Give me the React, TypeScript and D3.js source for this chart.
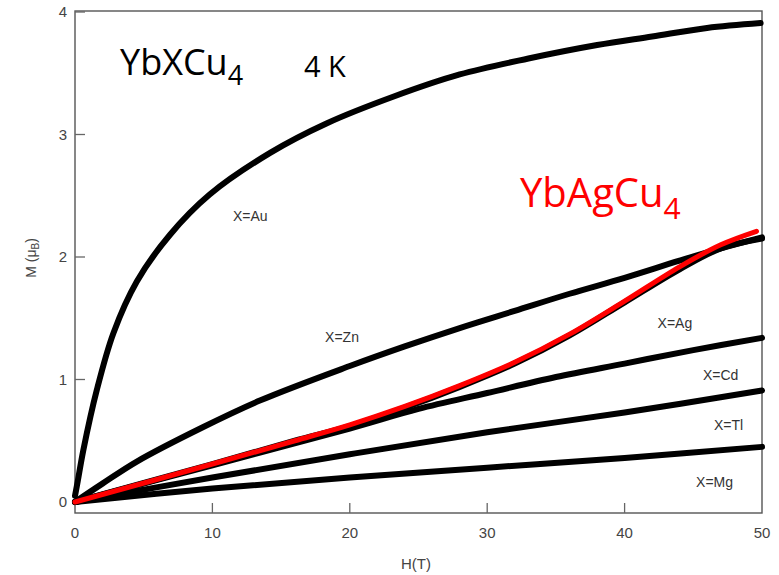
import React from "react";
import * as d3 from "d3";

const xTicks = [0, 10, 20, 30, 40, 50];
const yTicks = [0, 1, 2, 3, 4];

const auH = [0, 0.2, 0.6, 1.6, 2.8, 4.5, 6.9, 9.8, 14.2, 18.3, 23.2, 28, 33, 38, 42, 46, 49.9];
const auM = [0.05, 0.17, 0.42, 0.92, 1.38, 1.8, 2.18, 2.51, 2.85, 3.09, 3.31, 3.49, 3.62, 3.73, 3.8, 3.87, 3.91];

const znH = [0, 2, 4.5, 9.3, 13.5, 20, 24, 28, 32, 36, 40, 44, 47, 50];
const znM = [0, 0.15, 0.33, 0.61, 0.83, 1.11, 1.27, 1.42, 1.56, 1.7, 1.83, 1.97, 2.07, 2.16];

const agH = [0, 10, 16, 20, 24, 28, 32, 36, 40, 44, 47, 50];
const agM = [0, 0.31, 0.5, 0.62, 0.77, 0.94, 1.13, 1.36, 1.63, 1.9, 2.07, 2.15];

const redH = [0, 10, 16, 20, 24, 28, 32, 36, 40, 44, 47, 49.6];
const redM = [0, 0.31, 0.5, 0.63, 0.78, 0.95, 1.14, 1.37, 1.64, 1.92, 2.1, 2.21];

const cdH = [0, 10, 20, 25, 30, 35, 40, 45, 50];
const cdM = [0, 0.3, 0.6, 0.76, 0.89, 1.02, 1.13, 1.24, 1.34];

const tlH = [0, 10, 20, 30, 40, 50];
const tlM = [0, 0.2, 0.39, 0.57, 0.73, 0.91];

const mgH = [0, 10, 20, 30, 40, 50];
const mgM = [0, 0.11, 0.2, 0.28, 0.36, 0.45];

const labels = ["X=Au", "X=Zn", "X=Ag", "X=Cd", "X=Tl", "X=Mg"];
const labelH = [11.5, 18.2, 42.4, 45.7, 46.5, 45.2];
const labelM = [2.29, 1.31, 1.42, 1.0, 0.59, 0.12];

export default function App() {
  const W = 779;
  const H = 575;
  const x = d3.scaleLinear().domain([0, 50]).range([75, 762]);
  const y = d3.scaleLinear().domain([0, 4]).range([502, 12]);
  const frameTop = 11;
  const frameBottom = 513;

  const line = d3
    .line<[number, number]>()
    .x((d) => x(d[0]))
    .y((d) => y(d[1]))
    .curve(d3.curveCatmullRom.alpha(0.5));

  const toPts = (hs: number[], ms: number[]) => hs.map((h, i) => [h, ms[i]] as [number, number]);

  const blackSeries = [
    toPts(mgH, mgM),
    toPts(tlH, tlM),
    toPts(cdH, cdM),
    toPts(agH, agM),
    toPts(znH, znM),
    toPts(auH, auM),
  ];

  const sans = "'Liberation Sans', Arial, sans-serif";
  const cal = "'Open Sans', 'Noto Sans', sans-serif";

  return (
    <svg width={W} height={H} style={{ position: "absolute", left: 0, top: 0, background: "#fff" }}>
      <rect x={0} y={0} width={W} height={H} fill="#fff" />
      {/* frame */}
      <rect
        x={x(0)}
        y={frameTop}
        width={x(50) - x(0)}
        height={frameBottom - frameTop}
        fill="none"
        stroke="#555"
        strokeWidth={1.4}
      />
      {/* y ticks */}
      {yTicks.map((t) => (
        <g key={"y" + t}>
          <line x1={x(0)} x2={x(0) + 10} y1={y(t)} y2={y(t)} stroke="#666" strokeWidth={1.3} />
          <text x={67} y={y(t) + 5} textAnchor="end" fontFamily={sans} fontSize={15} fill="#444">
            {t}
          </text>
        </g>
      ))}
      {/* x ticks */}
      {xTicks.map((t) => (
        <g key={"x" + t}>
          {t > 0 && t < 50 && (
            <line x1={x(t)} x2={x(t)} y1={frameBottom} y2={frameBottom - 10} stroke="#666" strokeWidth={1.3} />
          )}
          <text x={x(t)} y={538} textAnchor="middle" fontFamily={sans} fontSize={15} fill="#444">
            {t}
          </text>
        </g>
      ))}
      <text x={416} y={569} textAnchor="middle" fontFamily={sans} fontSize={15} fill="#444">
        H(T)
      </text>
      <text
        transform="translate(36,258) rotate(-90)"
        textAnchor="middle"
        fontFamily={sans}
        fontSize={14}
        fill="#444"
      >
        M (μ
        <tspan fontSize={10} dy={3}>
          B
        </tspan>
        <tspan dy={-3}>)</tspan>
      </text>

      {/* curves */}
      {blackSeries.map((pts, i) => (
        <path
          key={"b" + i}
          d={line(pts) || ""}
          fill="none"
          stroke="#000"
          strokeWidth={6}
          strokeLinecap="round"
          strokeLinejoin="round"
        />
      ))}
      <path
        d={line(toPts(redH, redM)) || ""}
        fill="none"
        stroke="#ff0000"
        strokeWidth={5}
        strokeLinecap="round"
        strokeLinejoin="round"
      />

      {labels.map((l, i) => (
        <text key={l} x={x(labelH[i])} y={y(labelM[i])} fontFamily={sans} fontSize={14} fill="#333">
          {l}
        </text>
      ))}

      {/* annotations */}
      <text x={120} y={75} fontFamily={cal} fontSize={36} fill="#000">
        YbXCu
        <tspan fontSize={27} dy={10}>
          4
        </tspan>
      </text>
      <text x={304} y={77} fontFamily={cal} fontSize={29} fill="#000">
        4 K
      </text>
      <text x={520} y={207} fontFamily={cal} fontSize={40} fill="#ff0000">
        YbAgCu
        <tspan fontSize={30} dy={12}>
          4
        </tspan>
      </text>
    </svg>
  );
}
